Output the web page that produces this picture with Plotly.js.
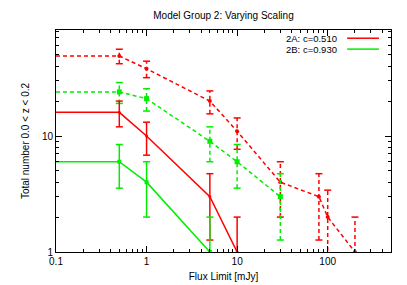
<!DOCTYPE html>
<html>
<head>
<meta charset="utf-8">
<script src="https://cdn.plot.ly/plotly-3.0.1.min.js"></script>
<style>html,body{margin:0;padding:0;background:#fff;}#chart{width:407px;height:285px;}</style>
</head>
<body>
<div id="chart"></div>
<script>
// Flux limits [mJy]; first entry (0.1) is the left edge anchor of each curve
var fluxLimits = [0.1, 0.5, 1, 5, 10, 30, 80, 100, 200];
var series2A_solid  = [16, 16, 10, 3, 1];
var series2A_dashed = [49, 49, 38, 20, 11, 4, 3, 2, 1];
var series2B_solid  = [6, 6, 4, 1];
var series2B_dashed = [24, 24, 21, 9, 6, 3];
var xTickVals = [0.1, 1, 10, 100];
var xTickText = ['0.1', '1', '10', '100'];
var yTickVals = [1, 10];
var yTickText = ['1', '10'];
var legendLabels = ['2A: c=0.510', '2B: c=0.930'];

var RED = '#ff0000', GREEN = '#00ee00';
var FONT = 'Liberation Sans, Arial, sans-serif';

function buildTraces(vals, color, dash, symbol, msize) {
  var xs = fluxLimits.slice(0, vals.length);
  var traces = [];
  traces.push({
    x: xs, y: vals, type: 'scatter', mode: 'lines',
    line: {color: color, width: 1.5, dash: dash},
    showlegend: false, hoverinfo: 'skip'
  });
  // Poisson (sqrt N) error bars, skipping the edge anchor
  var ex = [], ey = [], cx = [], cy = [], px = [], py = [];
  for (var i = 1; i < vals.length; i++) {
    var v = vals[i], s = Math.sqrt(v);
    var lo = v - s > 0 ? v - s : v / 100;
    var hi = v + s;
    ex.push(xs[i], xs[i], null);
    ey.push(lo, hi, null);
    cx.push(xs[i], xs[i]);
    cy.push(lo, hi);
    px.push(xs[i]); py.push(v);
  }
  traces.push({
    x: ex, y: ey, type: 'scatter', mode: 'lines',
    line: {color: color, width: 1.5, dash: dash},
    connectgaps: false, showlegend: false, hoverinfo: 'skip'
  });
  traces.push({
    x: cx, y: cy, type: 'scatter', mode: 'markers',
    marker: {symbol: 'line-ew', size: 5, color: color, line: {color: color, width: 1.5}},
    showlegend: false, hoverinfo: 'skip'
  });
  traces.push({
    x: px, y: py, type: 'scatter', mode: 'markers',
    marker: {symbol: symbol, size: msize, color: color, line: {width: 0}},
    showlegend: false, hoverinfo: 'skip'
  });
  return traces;
}

var data = [].concat(
  buildTraces(series2A_dashed, RED, '4px,3px', 'circle', 4),
  buildTraces(series2B_dashed, GREEN, '4px,3px', 'square', 5),
  buildTraces(series2A_solid, RED, 'solid', 'circle', 3),
  buildTraces(series2B_solid, GREEN, 'solid', 'square', 4)
);

function minorVals(lo, hi) {
  var out = [];
  for (var d = lo; d <= hi; d++) {
    for (var k = 2; k <= 9; k++) out.push(k * Math.pow(10, d));
  }
  return out;
}

var layout = {
  width: 407, height: 285,
  margin: {l: 56, r: 16, t: 30, b: 33},
  paper_bgcolor: '#fff', plot_bgcolor: '#fff',
  font: {family: FONT, size: 10, color: '#000'},
  title: {text: 'Model Group 2: Varying Scaling', x: 0.5, xref: 'paper', xanchor: 'center',
          y: 15, yref: 'container', yanchor: 'middle',
          font: {family: FONT, size: 10, color: '#000'}},
  showlegend: false,
  xaxis: {
    type: 'log', range: [-1, Math.log10(500)],
    tickvals: xTickVals, ticktext: xTickText,
    ticks: 'inside', ticklen: 6, tickwidth: 1, tickcolor: '#000',
    showline: true, linecolor: '#000', linewidth: 1, mirror: 'allticks',
    showgrid: false, zeroline: false,
    minor: {tickvals: minorVals(-1, 2), ticks: 'inside', ticklen: 3, tickcolor: '#000', showgrid: false},
    tickfont: {family: FONT, size: 10},
    title: {text: 'Flux Limit [mJy]', font: {family: FONT, size: 10}, standoff: 6}
  },
  yaxis: {
    type: 'log', range: [0, 1.914],
    tickvals: yTickVals, ticktext: yTickText,
    ticks: 'inside', ticklen: 6, tickwidth: 1, tickcolor: '#000',
    showline: true, linecolor: '#000', linewidth: 1, mirror: 'allticks',
    showgrid: false, zeroline: false,
    minor: {tickvals: minorVals(0, 1), ticks: 'inside', ticklen: 3, tickcolor: '#000', showgrid: false},
    tickfont: {family: FONT, size: 10},
    title: {text: 'Total number 0.0 &lt; z &lt; 0.2', font: {family: FONT, size: 10}, standoff: 10}
  },
  annotations: [
    {xref: 'paper', yref: 'paper', x: 0.842, y: 0.963, xanchor: 'right', yanchor: 'middle',
     text: legendLabels[0], showarrow: false, borderpad: 0, font: {family: FONT, size: 9.5}},
    {xref: 'paper', yref: 'paper', x: 0.842, y: 0.914, xanchor: 'right', yanchor: 'middle',
     text: legendLabels[1], showarrow: false, borderpad: 0, font: {family: FONT, size: 9.5}}
  ],
  shapes: [
    {type: 'line', xref: 'paper', yref: 'paper', x0: 0.869, x1: 0.964, y0: 0.963, y1: 0.963,
     line: {color: RED, width: 1.5}},
    {type: 'line', xref: 'paper', yref: 'paper', x0: 0.869, x1: 0.964, y0: 0.914, y1: 0.914,
     line: {color: GREEN, width: 1.5}}
  ]
};

Plotly.newPlot('chart', data, layout, {staticPlot: true, displayModeBar: false});
</script>
</body>
</html>
